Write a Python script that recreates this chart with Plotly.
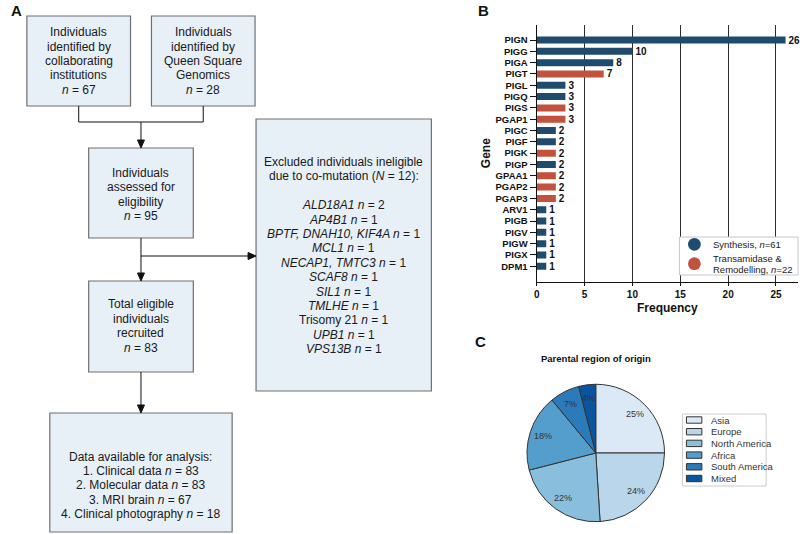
import math
import plotly.graph_objects as go

W, H = 800, 534
FONT = "Arial, Liberation Sans, sans-serif"


def px(x):
    return x / W


def py(y):
    return 1 - y / H


# ---- panel B data
genes = ["PIGN", "PIGG", "PIGA", "PIGT", "PIGL", "PIGQ", "PIGS", "PGAP1", "PIGC", "PIGF", "PIGK",
         "PIGP", "GPAA1", "PGAP2", "PGAP3", "ARV1", "PIGB", "PIGV", "PIGW", "PIGX", "DPM1"]
freq = [26, 10, 8, 7, 3, 3, 3, 3, 2, 2, 2, 2, 2, 2, 2, 1, 1, 1, 1, 1, 1]
pathway = ["syn", "syn", "syn", "tr", "syn", "syn", "tr", "tr", "syn", "syn", "tr",
           "syn", "tr", "tr", "tr", "syn", "syn", "syn", "syn", "syn", "syn"]
pathway_labels = {"syn": ["Synthesis, <i>n</i>=61"],
                  "tr": ["Transamidase &", "Remodelling, <i>n</i>=22"]}
pathway_colors = {"syn": "#1f4b6e", "tr": "#c2513d"}

# ---- panel C data
regions = ["Asia", "Europe", "North America", "Africa", "South America", "Mixed"]
share = [25, 24, 22, 18, 7, 4]
region_colors = ["#dbe9f6", "#bad6eb", "#89bedc", "#539ecd", "#2b7bba", "#0b559f"]

# ---- panel A text
box_texts = {
    "inst": ["Individuals", "identified by", "collaborating", "institutions", "<i>n</i> = 67"],
    "qsg": ["Individuals", "identified by", "Queen Square", "Genomics", "<i>n</i> = 28"],
    "assessed": ["Individuals", "assessed for", "eligibility", "<i>n</i> = 95"],
    "recruited": ["Total eligible", "individuals", "recruited", "<i>n</i> = 83"],
    "data": ["Data available for analysis:", "1. Clinical data <i>n</i> = 83",
             "2. Molecular data <i>n</i> = 83", "3. MRI brain <i>n</i> = 67",
             "4. Clinical photography <i>n</i> = 18"],
    "excluded": ["Excluded individuals ineligible", "due to co-mutation (<i>N</i> = 12):", "",
                 "<i>ALD18A1 n</i> = 2", "<i>AP4B1 n</i> = 1", "<i>BPTF, DNAH10, KIF4A n</i> = 1",
                 "<i>MCL1 n</i> = 1", "<i>NECAP1, TMTC3 n</i> = 1", "<i>SCAF8 n</i> = 1",
                 "<i>SIL1 n</i> = 1", "<i>TMLHE n</i> = 1", "Trisomy 21 <i>n</i> = 1",
                 "<i>UPB1 n</i> = 1", "<i>VPS13B n</i> = 1"],
}

# box geometry in pixels: x0, y0, x1, y1, first text line y
boxes = {
    "inst": (24, 16, 128, 106, 32.3),
    "qsg": (149, 16, 253, 106, 32.3),
    "assessed": (86, 148, 191, 238, 172.7),
    "recruited": (86, 281, 191, 372, 304.3),
    "data": (47, 413, 230, 532, 456.7),
    "excluded": (254, 119, 430, 391, 162),
}

fig = go.Figure()
shapes = []
annotations = []


def label(x, y, text, size, color="#111111", anchor="center", **kw):
    font = dict(family=FONT, size=size, color=color)
    if kw.pop("bold", False):
        font["weight"] = "bold"
    annotations.append(dict(xref="paper", yref="paper", x=px(x), y=py(y), text=text, showarrow=False,
                            xanchor=anchor, yanchor="middle", font=font, **kw))


for key, (x0, y0, x1, y1, ty) in boxes.items():
    shapes.append(dict(type="rect", xref="paper", yref="paper", x0=px(x0), x1=px(x1), y0=py(y1), y1=py(y0),
                       fillcolor="#e7eff7", line=dict(color="#707070", width=1.2), layer="below"))
    for i, line in enumerate(box_texts[key]):
        if line:
            label((x0 + x1) / 2, ty + i * 14.4, line, 12, "#1a1a1a")

# connectors
conn = [((76, 106), (76, 122)), ((201, 106), (201, 122)), ((76, 122), (201, 122)),
        ((138.5, 122), (138.5, 141)), ((138.5, 238), (138.5, 274)), ((138.5, 256), (247, 256)),
        ((138.5, 372), (138.5, 406))]
for (xa, ya), (xb, yb) in conn:
    shapes.append(dict(type="line", xref="paper", yref="paper", x0=px(xa), y0=py(ya), x1=px(xb), y1=py(yb),
                       line=dict(color="#111111", width=1)))


def tri_down(x, y):
    return "M {} {} L {} {} L {} {} Z".format(px(x), py(y), px(x - 3.5), py(y - 8), px(x + 3.5), py(y - 8))


def tri_right(x, y):
    return "M {} {} L {} {} L {} {} Z".format(px(x), py(y), px(x - 8), py(y - 3.5), px(x - 8), py(y + 3.5))


for path in [tri_down(138.5, 148), tri_down(138.5, 281), tri_down(138.5, 413), tri_right(254, 256)]:
    shapes.append(dict(type="path", xref="paper", yref="paper", path=path,
                       fillcolor="#111111", line=dict(color="#111111", width=1)))

# ---- panel B bars
fig.add_trace(go.Bar(
    x=freq, y=genes, orientation="h", width=0.62,
    marker=dict(color=[pathway_colors[p] for p in pathway], line=dict(width=0)),
    text=freq, textposition="outside", constraintext="none", cliponaxis=False,
    textfont=dict(family=FONT, size=10, color="#111111", weight="bold"),
    showlegend=False, hoverinfo="x+y",
))

fig.update_xaxes(domain=[px(535.7), px(798)], range=[0, 27.3], dtick=5, showgrid=True,
                 gridcolor="#2e2e2e", gridwidth=1.3, zeroline=False, showline=True,
                 linecolor="#111111", linewidth=1.3, ticks="outside", ticklen=3, tickcolor="#111111",
                 tickfont=dict(family=FONT, size=10, color="#111111", weight="bold"))
fig.update_yaxes(domain=[py(282), py(25)], range=[21.39, -1.33], type="category",
                 categoryorder="array", categoryarray=genes, showgrid=False, zeroline=False,
                 showline=True, linecolor="#111111", linewidth=1.3, ticks="outside", ticklen=6,
                 tickcolor="#111111", tickfont=dict(family=FONT, size=9.5, color="#111111", weight="bold"))

label(667, 308, "Frequency", 12, bold=True)
label(485, 153, "Gene", 12, bold=True, textangle=-90)

# legend for the bars
shapes.append(dict(type="rect", xref="paper", yref="paper", x0=px(679), x1=px(798), y0=py(275), y1=py(237),
                   fillcolor="white", line=dict(color="#c8c8c8", width=1)))
leg_rows = {"syn": (244.3, 244.7), "tr": (263.7, 258)}
for key, (cyy, tyy) in leg_rows.items():
    shapes.append(dict(type="circle", xref="paper", yref="paper", x0=px(694 - 6.4), x1=px(694 + 6.4),
                       y0=py(cyy + 6.4), y1=py(cyy - 6.4), fillcolor=pathway_colors[key],
                       line=dict(width=0)))
    for j, t in enumerate(pathway_labels[key]):
        label(711, tyy + j * 11.3, t, 9.5, "#222222", anchor="left")

# ---- panel C pie
R = 69
cx, cy = 595, 453
fig.add_trace(go.Pie(
    labels=regions, values=share, sort=False, direction="clockwise", rotation=0,
    marker=dict(colors=region_colors, line=dict(color="#333333", width=1)),
    textinfo="none", showlegend=False, hoverinfo="label+percent",
    domain=dict(x=[px(cx - R), px(cx + R)], y=[py(cy + R), py(cy - R)]),
))

total = sum(share)
cum = 0
for v in share:
    mid = (cum + v / 2) / total * 2 * math.pi
    cum += v
    label(cx + 0.8 * R * math.sin(mid), cy - 0.8 * R * math.cos(mid),
          "{:.0f}%".format(v / total * 100), 9, "#333333")

label(595, 358, "Parental region of origin", 9.5, bold=True)

# legend for the pie
shapes.append(dict(type="rect", xref="paper", yref="paper", x0=px(682), x1=px(766), y0=py(486), y1=py(414),
                   fillcolor="white", line=dict(color="#cccccc", width=1)))
for i, (name, col) in enumerate(zip(regions, region_colors)):
    yy = 420 + i * 11.7
    shapes.append(dict(type="rect", xref="paper", yref="paper", x0=px(686), x1=px(701.5),
                       y0=py(yy + 3.2), y1=py(yy - 3.2), fillcolor=col, line=dict(color="#333333", width=1)))
    label(708.5, yy, name, 9.5, "#333333", anchor="left")

# panel letters
for letter, (lx, ly) in {"A": (14, 10), "B": (482, 10), "C": (479, 341)}.items():
    label(lx, ly, letter, 15, bold=True)

fig.update_layout(
    width=W, height=H, margin=dict(l=0, r=0, t=0, b=0),
    paper_bgcolor="white", plot_bgcolor="white",
    shapes=shapes, annotations=annotations, showlegend=False,
)

fig.write_html("out.html", config={"displayModeBar": False},
               post_script="document.body.style.margin='0';document.body.style.overflow='hidden';")
